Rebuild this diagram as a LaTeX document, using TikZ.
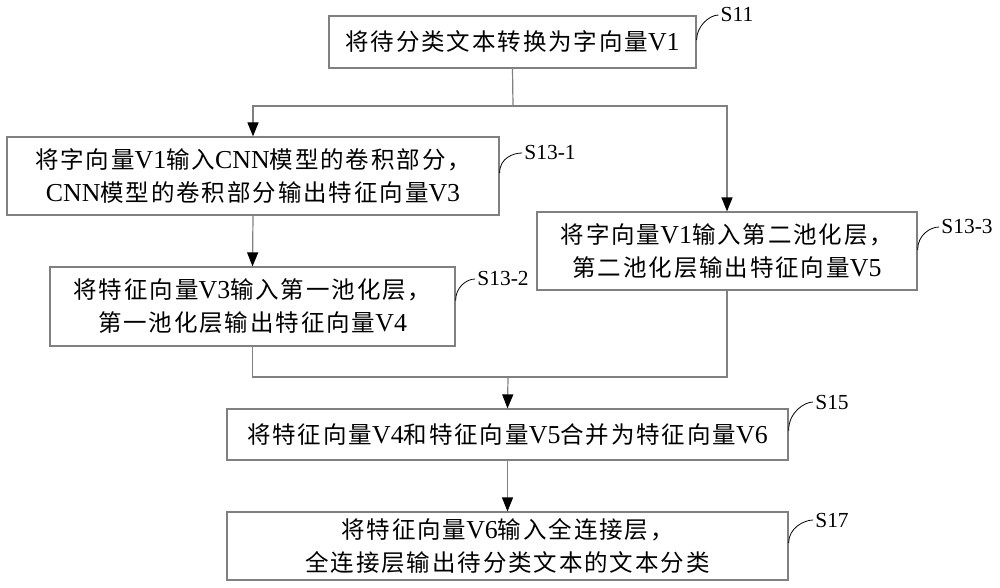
\documentclass[tikz,border=0pt]{standalone}
\usepackage{fontspec}
\setmainfont{Liberation Serif}[Scale=1.1]
\newfontfamily\cjk[LetterSpace=8]{Noto Sans CJK SC}
\newcommand\zh[1]{{\cjk #1}}
\usetikzlibrary{arrows.meta}
\definecolor{linegray}{RGB}{128,128,128}
\begin{document}
\begin{tikzpicture}[x=1pt,y=-1pt,
  box/.style={draw=linegray, line width=1.2pt, inner sep=0pt, align=center,
    font=\fontsize{23.5}{33}\selectfont},
  conn/.style={draw=linegray, line width=1.2pt},
  arr/.style={conn, -{Triangle[length=14pt,width=11pt,color=black]}},
  lbl/.style={font=\fontsize{19.5}{22}\selectfont, inner sep=2pt},
  tick/.style={draw=black, line width=0.8pt}
]
\fill[white] (0,0) rectangle (1000,588);
\useasboundingbox (0,0) rectangle (1000,588);

\node[box, minimum width=367pt, minimum height=52pt] (s11) at (512.5,42)
  {\zh{将待分类文本转换为字向量}V1};
\node[box, minimum width=492pt, minimum height=78pt] (s131) at (253,176)
  {\zh{将字向量}V1\zh{输入}CNN\zh{模型的卷积部分，}\\CNN\zh{模型的卷积部分输出特征向量}V3};
\node[box, minimum width=380pt, minimum height=78pt] (s133) at (727,251)
  {\zh{将字向量}V1\zh{输入第二池化层，}\\\zh{第二池化层输出特征向量}V5};
\node[box, minimum width=405pt, minimum height=79pt] (s132) at (252.5,306.5)
  {\zh{将特征向量}V3\zh{输入第一池化层，}\\\zh{第一池化层输出特征向量}V4};
\node[box, minimum width=561pt, minimum height=51pt] (s15) at (507.5,434.5)
  {\zh{将特征向量}V4\zh{和特征向量}V5\zh{合并为特征向量}V6};
\node[box, minimum width=561pt, minimum height=68pt] (s17) at (507.5,546)
  {\zh{将特征向量}V6\zh{输入全连接层，}\\\zh{全连接层输出待分类文本的文本分类}};

% connectors
\coordinate (split) at (513,106);
\coordinate (merge) at (508,377);
\draw[conn] (s11.south) -- (split);
\draw[arr] (split) -| (s131.north);
\draw[arr] (split) -| (s133.north);
\draw[arr] (s131.south) -- (s132.north);
\draw[conn] (s132.south) |- (merge);
\draw[conn] (s133.south) |- (merge);
\draw[arr] (merge) -- (s15.north);
\draw[arr] (s15.south) -- (s17.north);

% labels
\node[lbl] (l11) at (737,15) {S11};
\node[lbl] (l131) at (550,153) {S13-1};
\node[lbl] (l133) at (967,227) {S13-3};
\node[lbl] (l132) at (503,279) {S13-2};
\node[lbl] (l15) at (832,402) {S15};
\node[lbl] (l17) at (832,520) {S17};

\draw[tick] ([yshift=2pt]s11.east) .. controls +(0,-14) and +(-9,0) .. (l11.west);
\draw[tick] ([yshift=3pt]s131.east) .. controls +(0,-15) and +(-9,0) .. (l131.west);
\draw[tick] ([yshift=1pt]s133.east) .. controls +(0,-15) and +(-9,0) .. (l133.west);
\draw[tick] ([yshift=6pt]s132.east) .. controls +(0,-13) and +(-9,0) .. (l132.west);
\draw[tick] ([yshift=4pt]s15.east) .. controls +(0,-18) and +(-9,0) .. (l15.west);
\draw[tick] ([yshift=3pt]s17.east) .. controls +(0,-15) and +(-9,0) .. (l17.west);
\end{tikzpicture}
\end{document}
